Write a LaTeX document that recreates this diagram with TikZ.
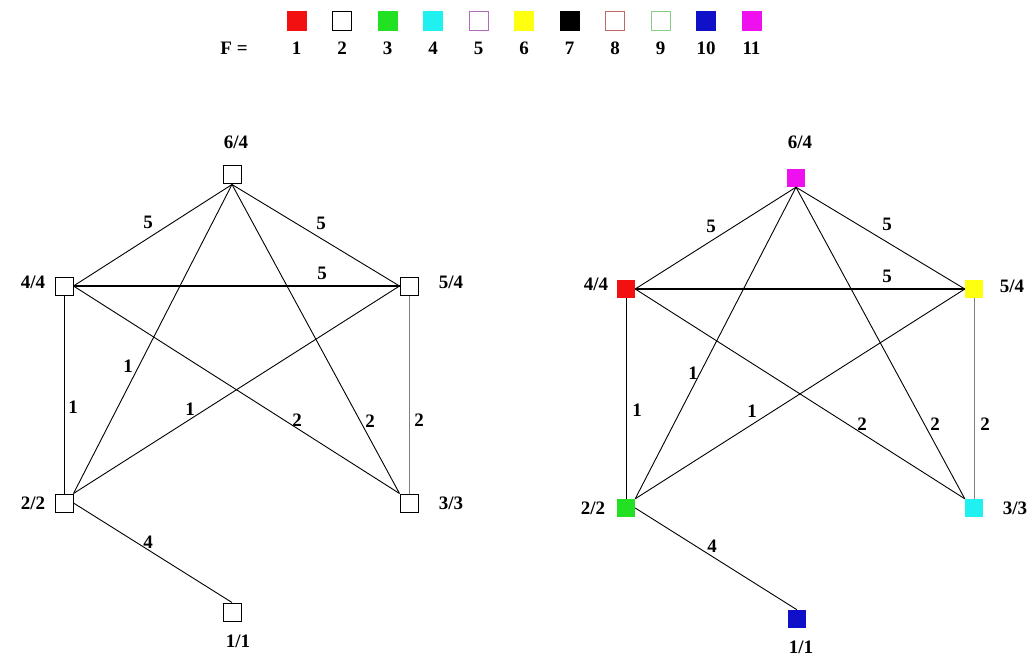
\documentclass[tikz,border=0pt]{standalone}
\usepackage{fontspec}
\setmainfont{Liberation Serif}
\usetikzlibrary{positioning}
\definecolor{cRed}{HTML}{F21010}
\definecolor{cGrn}{HTML}{22E022}
\definecolor{cCyn}{HTML}{20F0F0}
\definecolor{cMag}{HTML}{EE10EE}
\definecolor{cYel}{HTML}{FFFF10}
\definecolor{cBlu}{HTML}{1010C8}
\definecolor{cPnk}{HTML}{B468C0}
\definecolor{cBrn}{HTML}{C06868}
\definecolor{cLgr}{HTML}{88CC88}
\tikzset{
  lbl/.style={font=\fontsize{19}{22}\selectfont\bfseries, inner sep=0pt},
  vtx/.style={draw=black, fill=white, line width=1pt, minimum size=18pt, inner sep=0pt},
  cvtx/.style={fill=#1, draw=none, minimum size=18pt, inner sep=0pt},
  key/.style={minimum size=19pt, inner sep=0pt, line width=1pt},
  lnk/.style={line width=0.9pt, draw=black},
  lnkg/.style={line width=0.8pt, draw=black!50},
}

\begin{document}
\begin{tikzpicture}[x=1pt, y=-1pt]
\useasboundingbox (0,0) rectangle (1034,658);
% legend
\node[lbl] (F) at (234,48.5) {F =};
\foreach \i/\c/\f in {1/cRed/cRed,2/black/white,3/cGrn/cGrn,4/cCyn/cCyn,5/cPnk/white,6/cYel/cYel,7/black/black,8/cBrn/white,9/cLgr/white,10/cBlu/cBlu,11/cMag/cMag}{
  \node[key, draw=\c, fill=\f] (k\i) at ({296.5+45.5*(\i-1)},21) {};
  \node[lbl] (n\i) at ({296.5+45.5*(\i-1)},48.5) {\i};
}
% left graph
\node[vtx] (a6) at (232,175) {};
\node[vtx] (a4) at (64,286) {};
\node[vtx] (a5) at (409,286) {};
\node[vtx] (a2) at (64,503) {};
\node[vtx] (a3) at (409,503) {};
\node[vtx] (a1) at (232,612) {};
\node[lbl] (a6l) at (236,142) {6/4};
\node[lbl] (a4l) at (33,282) {4/4};
\node[lbl] (a5l) at (451,282) {5/4};
\node[lbl] (a2l) at (33,503) {2/2};
\node[lbl] (a3l) at (451,503) {3/3};
\node[lbl] (a1l) at (238,641) {1/1};
% right graph
\node[cvtx=cMag] (b6) at (796,178) {};
\node[cvtx=cRed] (b4) at (626,289) {};
\node[cvtx=cYel] (b5) at (974,289) {};
\node[cvtx=cGrn] (b2) at (626,508) {};
\node[cvtx=cCyn] (b3) at (974,508) {};
\node[cvtx=cBlu] (b1) at (797,619) {};
\node[lbl] (b6l) at (800,142) {6/4};
\node[lbl] (b4l) at (596,284) {4/4};
\node[lbl] (b5l) at (1012,286) {5/4};
\node[lbl] (b2l) at (593,508) {2/2};
\node[lbl] (b3l) at (1015,508) {3/3};
\node[lbl] (b1l) at (801,647) {1/1};
% edges
\foreach \g in {a,b}{
  \draw[lnk] (\g6.south) -- (\g4.east);
  \draw[lnk] (\g6.south) -- (\g5.west);
  \draw[lnk, line width=1.1pt] (\g4.east) -- (\g5.west);
  \draw[lnk] (\g6.south) -- (\g2.north east);
  \draw[lnk] (\g6.south) -- (\g3.north west);
  \draw[lnk] (\g4.south) -- (\g2.north);
  \draw[lnk] (\g4.east) -- (\g3.north west);
  \draw[lnk] (\g5.west) -- (\g2.north east);
  \draw[lnkg] (\g5.south) -- (\g3.north);
  \draw[lnk] (\g2.east) -- (\g1.north);
}
% edge weights
\foreach \x/\y/\w [count=\j] in {148/222/5,321/223/5,322/273/5,128/366/1,73/407/1,190/409/1,297/420/2,370/421/2,419/420/2,148/542/4}
  \node[lbl] (aw\j) at (\x,\y) {\w};
\foreach \x/\y/\w [count=\j] in {711/226/5,887/224/5,887/276/5,693/373/1,637/410/1,752/411/1,862/424/2,935/424/2,985/424/2,712/546/4}
  \node[lbl] (bw\j) at (\x,\y) {\w};
\end{tikzpicture}
\end{document}
